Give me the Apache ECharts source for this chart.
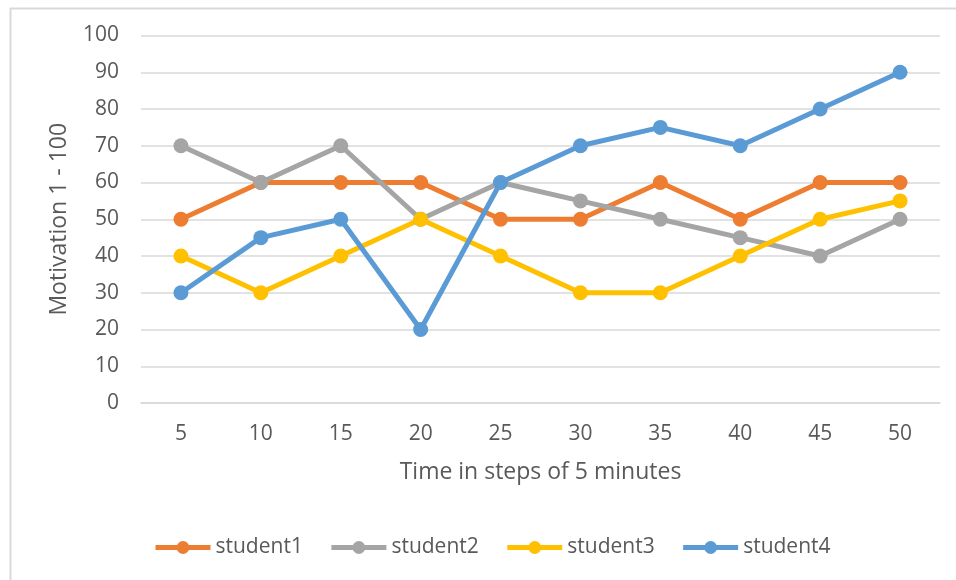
<!DOCTYPE html>
<html>
<head>
<meta charset="utf-8">
<script src="https://cdn.jsdelivr.net/npm/echarts@6/dist/echarts.min.js"></script>
<style>html,body{margin:0;padding:0;background:#fff}#c{width:956px;height:580px}</style>
</head>
<body>
<div id="c"></div>
<script>
const categories = ['5','10','15','20','25','30','35','40','45','50'];
const student1 = [50,60,60,60,50,50,60,50,60,60];
const student2 = [70,60,70,50,60,55,50,45,40,50];
const student3 = [40,30,40,50,40,30,30,40,50,55];
const student4 = [30,45,50,20,60,70,75,70,80,90];
const seriesNames = ['student1','student2','student3','student4'];
const seriesData = [student1, student2, student3, student4];
const colors = ['#ED7D31','#A5A5A5','#FFC000','#5B9BD5'];

const FONT = 'Open Sans';
const chart = echarts.init(document.getElementById('c'), null, {renderer:'canvas'});
chart.setOption({
  animation: false,
  color: colors,
  textStyle: {fontFamily: FONT},
  graphic: [{
    type: 'rect', left: 8, top: 6, shape: {width: 1000, height: 1000},
    style: {fill: 'none', stroke: '#D9D9D9', lineWidth: 2}, z: -1
  }],
  grid: {left: 141, right: 16, top: 35.5, bottom: 177},
  legend: {
    bottom: 17, left: 148, itemWidth: 55, itemHeight: 16, itemGap: 26,
    lineStyle: {width: 5},
    textStyle: {fontSize: 21, color: '#595959', fontFamily: FONT},
    data: seriesNames
  },
  xAxis: {
    type: 'category', data: categories, boundaryGap: true,
    name: 'Time in steps of 5 minutes', nameLocation: 'middle', nameGap: 58,
    nameTextStyle: {fontSize: 23, color: '#595959', fontFamily: FONT},
    axisLine: {show: true, lineStyle: {color: '#D9D9D9', width: 1.5}},
    axisTick: {show: false},
    axisLabel: {fontSize: 21, color: '#595959', margin: 21, fontFamily: FONT}
  },
  yAxis: {
    type: 'value', min: 0, max: 100, interval: 10,
    name: 'Motivation 1 - 100', nameLocation: 'middle', nameGap: 70,
    nameTextStyle: {fontSize: 23, color: '#595959', fontFamily: FONT},
    axisLine: {show: false}, axisTick: {show: false},
    splitLine: {lineStyle: {color: '#D9D9D9', width: 1.5}},
    axisLabel: {fontSize: 21, color: '#595959', margin: 22, fontFamily: FONT}
  },
  series: seriesNames.map((n, i) => ({
    name: n, type: 'line', data: seriesData[i],
    symbol: 'circle', symbolSize: 15,
    lineStyle: {width: 5, color: colors[i]},
    itemStyle: {color: colors[i]}
  }))
});
</script>
</body>
</html>
